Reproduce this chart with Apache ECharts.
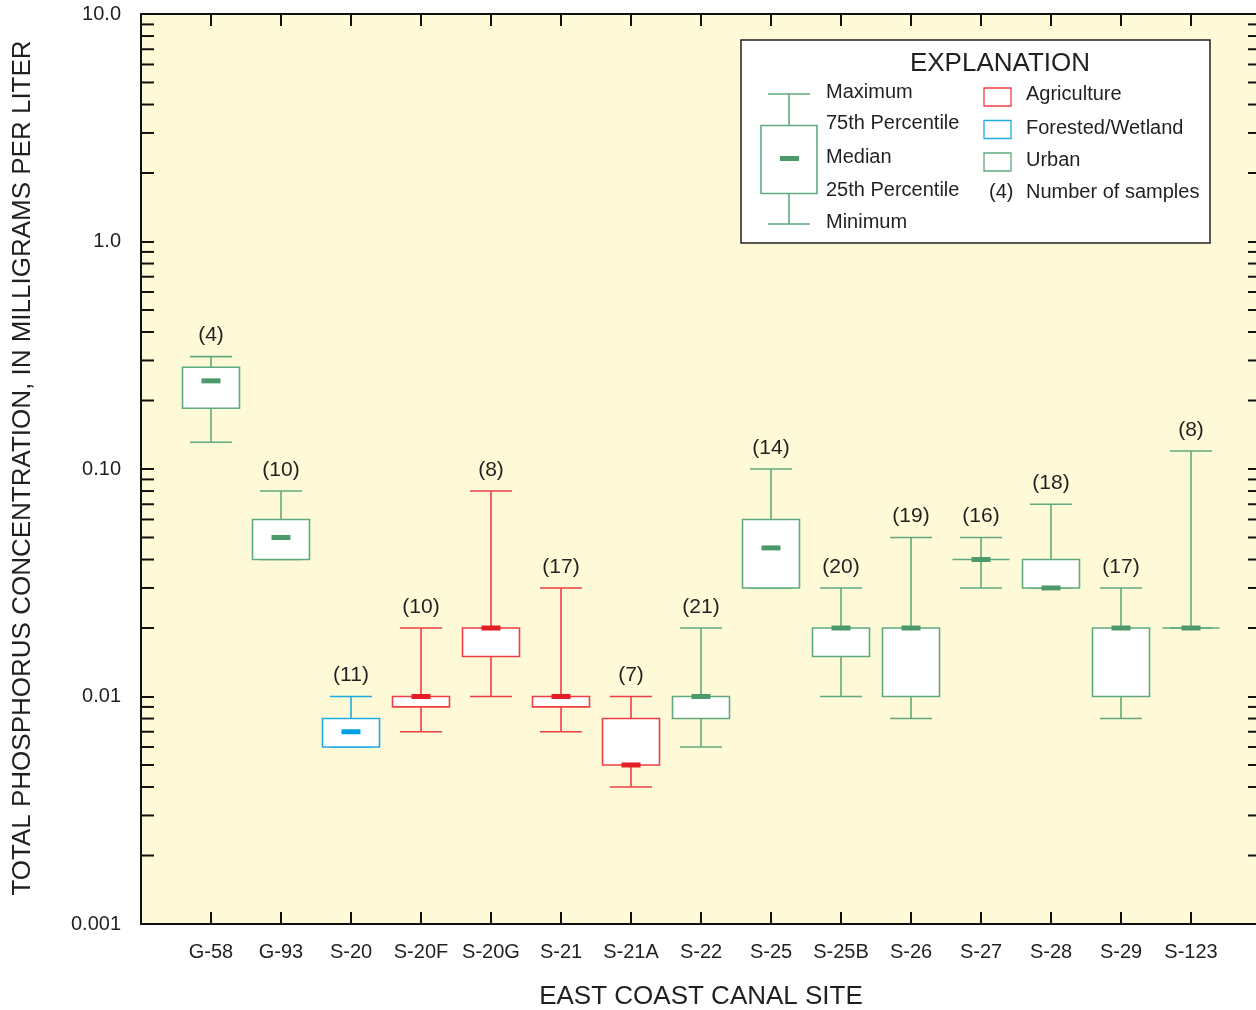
<!DOCTYPE html>
<html>
<head>
<meta charset="utf-8">
<script src="https://cdn.jsdelivr.net/npm/echarts@6/dist/echarts.min.js"></script>
<style>
html,body{margin:0;padding:0;background:#fff;}
#chart{width:1256px;height:1010px;}
</style>
</head>
<body>
<div id="chart"></div>
<script>
const sites = ['G-58','G-93','S-20','S-20F','S-20G','S-21','S-21A','S-22','S-25','S-25B','S-26','S-27','S-28','S-29','S-123'];
const landUse = ['Urban','Urban','Forested/Wetland','Agriculture','Agriculture','Agriculture','Agriculture','Urban','Urban','Urban','Urban','Urban','Urban','Urban','Urban'];
const minimum = [0.131,0.04,0.006,0.007,0.01,0.007,0.004,0.006,0.03,0.01,0.008,0.03,0.03,0.008,0.02];
const q1      = [0.185,0.04,0.006,0.009,0.015,0.009,0.005,0.008,0.03,0.015,0.01,0.04,0.03,0.01,0.02];
const median  = [0.244,0.05,0.007,0.01,0.02,0.01,0.005,0.01,0.045,0.02,0.02,0.04,0.03,0.02,0.02];
const q3      = [0.28,0.06,0.008,0.01,0.02,0.01,0.008,0.01,0.06,0.02,0.02,0.04,0.04,0.02,0.02];
const maximum = [0.312,0.08,0.01,0.02,0.08,0.03,0.01,0.02,0.10,0.03,0.05,0.05,0.07,0.03,0.12];
const samples = [4,10,11,10,8,17,7,21,14,20,19,16,18,17,8];
const yTickValues = [0.001,0.01,0.1,1,10];
const yTickLabels = ['0.001','0.01','0.10','1.0','10.0'];
const minorTickValues = [0.002,0.003,0.004,0.005,0.006,0.007,0.008,0.009,
  0.02,0.03,0.04,0.05,0.06,0.07,0.08,0.09,
  0.2,0.3,0.4,0.5,0.6,0.7,0.8,0.9,
  2,3,4,5,6,7,8,9];

const FONT = '"Liberation Sans", Arial, Helvetica, sans-serif';
const TXT = '#231F20';
const palette = {
  'Agriculture': {stroke:'#EF3E46', median:'#E41E26'},
  'Forested/Wetland': {stroke:'#20AAE2', median:'#00A0E3'},
  'Urban': {stroke:'#5FAA7E', median:'#4C9A6B'}
};

const boxData = sites.map((s,i)=>[i+1, minimum[i], q1[i], median[i], q3[i], maximum[i], samples[i], i]);
const minorData = minorTickValues.map(v=>[0, v]);

const chart = echarts.init(document.getElementById('chart'), null, {renderer:'canvas'});

const option = {
  animation:false,
  backgroundColor:'#ffffff',
  grid:{left:141, top:14, width:1120, height:910, show:true, backgroundColor:'#FEF9D7', borderWidth:0,
        containLabel:false, outerBoundsMode:'none'},
  xAxis:[
    {type:'value', min:0, max:16, interval:1, position:'bottom',
     axisLine:{show:true, onZero:false, lineStyle:{color:'#111', width:2}},
     axisTick:{show:true, inside:true, length:12, lineStyle:{color:'#111', width:2}},
     splitLine:{show:false},
     axisLabel:{margin:18, fontSize:20, color:TXT, fontFamily:FONT,
       formatter:function(v){const k=Math.round(v); return (k>=1 && k<=sites.length)?sites[k-1]:'';}}
    },
    {type:'value', min:0, max:16, interval:1, position:'top',
     axisLine:{show:true, onZero:false, lineStyle:{color:'#111', width:2}},
     axisTick:{show:true, inside:true, length:12, lineStyle:{color:'#111', width:2}},
     splitLine:{show:false}, axisLabel:{show:false}
    }
  ],
  yAxis:[
    {type:'log', logBase:10, min:0.001, max:10, position:'left',
     axisLine:{show:true, onZero:false, lineStyle:{color:'#111', width:2}},
     axisTick:{show:true, inside:true, length:13, lineStyle:{color:'#111', width:2}},
     splitLine:{show:false},
     axisLabel:{margin:20, fontSize:20, color:TXT, fontFamily:FONT,
       formatter:function(v){const k=Math.round(Math.log10(v)); const idx=yTickValues.findIndex(t=>Math.round(Math.log10(t))===k); return idx>=0?yTickLabels[idx]:'';}}
    },
    {type:'log', logBase:10, min:0.001, max:10, position:'right',
     axisLine:{show:true, onZero:false, lineStyle:{color:'#111', width:2}},
     axisTick:{show:true, inside:true, length:13, lineStyle:{color:'#111', width:2}},
     splitLine:{show:false}, axisLabel:{show:false}
    }
  ],
  series:[
    {
      type:'custom', name:'minorTicks', xAxisIndex:0, yAxisIndex:0, silent:true,
      data:minorData, encode:{x:0, y:1}, clip:false,
      renderItem:function(params, api){
        const v = api.value(1);
        const pL = api.coord([0, v]);
        const pR = api.coord([16, v]);
        const st = {stroke:'#111', lineWidth:2};
        return {type:'group', children:[
          {type:'line', shape:{x1:pL[0], y1:pL[1], x2:pL[0]+13, y2:pL[1]}, style:st},
          {type:'line', shape:{x1:pR[0]-13, y1:pR[1], x2:pR[0], y2:pR[1]}, style:st}
        ]};
      }
    },
    {
      type:'custom', name:'boxes', xAxisIndex:0, yAxisIndex:0,
      data:boxData, encode:{x:0, y:[1,2,3,4,5]},
      renderItem:function(params, api){
        const x = api.value(0);
        const idx = api.value(7);
        const col = palette[landUse[idx]];
        const pMin = api.coord([x, api.value(1)]);
        const pQ1 = api.coord([x, api.value(2)]);
        const pMed = api.coord([x, api.value(3)]);
        const pQ3 = api.coord([x, api.value(4)]);
        const pMax = api.coord([x, api.value(5)]);
        const boxW = api.size([0.814, 0])[0];
        const capW = api.size([0.6, 0])[0];
        const cx = pMed[0];
        const ls = {stroke:col.stroke, lineWidth:1.6};
        return {type:'group', children:[
          {type:'line', shape:{x1:cx, y1:pMax[1], x2:cx, y2:pMin[1]}, style:ls},
          {type:'line', shape:{x1:cx-capW/2, y1:pMax[1], x2:cx+capW/2, y2:pMax[1]}, style:ls},
          {type:'line', shape:{x1:cx-capW/2, y1:pMin[1], x2:cx+capW/2, y2:pMin[1]}, style:ls},
          {type:'polygon', shape:{points:[[cx-boxW/2,pQ3[1]],[cx+boxW/2,pQ3[1]],[cx+boxW/2,pQ1[1]],[cx-boxW/2,pQ1[1]]]},
            style:{fill:'#ffffff', stroke:col.stroke, lineWidth:1.6}},
          {type:'rect', shape:{x:cx-9.5, y:pMed[1]-2.5, width:19, height:5}, style:{fill:col.median}},
          {type:'text', x:cx, y:pMax[1]-21, style:{text:'('+api.value(6)+')', fontSize:21, fontFamily:FONT, fill:TXT, align:'center', verticalAlign:'middle'}}
        ]};
      }
    }
  ],
  graphic:[
    {type:'text', x:23, y:468, rotation:Math.PI/2,
     style:{text:'TOTAL PHOSPHORUS CONCENTRATION, IN MILLIGRAMS PER LITER', fontSize:26, fontFamily:FONT, fill:TXT, align:'center', verticalAlign:'middle'}},
    {type:'text', x:701, y:997,
     style:{text:'EAST COAST CANAL SITE', fontSize:26, fontFamily:FONT, fill:TXT, align:'center', verticalAlign:'middle'}},
    {type:'group', children:[
      {type:'rect', shape:{x:741, y:40, width:469, height:203}, style:{fill:'#ffffff', stroke:'#222', lineWidth:1.5}},
      {type:'text', x:1000, y:64, style:{text:'EXPLANATION', fontSize:26, fontFamily:FONT, fill:TXT, align:'center', verticalAlign:'middle'}},
      {type:'line', shape:{x1:789, y1:94, x2:789, y2:224}, style:{stroke:'#5FAA7E', lineWidth:1.6}},
      {type:'line', shape:{x1:768, y1:94, x2:810, y2:94}, style:{stroke:'#5FAA7E', lineWidth:1.6}},
      {type:'line', shape:{x1:768, y1:224, x2:810, y2:224}, style:{stroke:'#5FAA7E', lineWidth:1.6}},
      {type:'rect', shape:{x:761, y:125.5, width:56, height:68}, style:{fill:'#ffffff', stroke:'#5FAA7E', lineWidth:1.6}},
      {type:'rect', shape:{x:780, y:156, width:19, height:5}, style:{fill:'#4C9A6B'}},
      {type:'text', x:826, y:92, style:{text:'Maximum', fontSize:20, fontFamily:FONT, fill:TXT, verticalAlign:'middle'}},
      {type:'text', x:826, y:123.5, style:{text:'75th Percentile', fontSize:20, fontFamily:FONT, fill:TXT, verticalAlign:'middle'}},
      {type:'text', x:826, y:157, style:{text:'Median', fontSize:20, fontFamily:FONT, fill:TXT, verticalAlign:'middle'}},
      {type:'text', x:826, y:190, style:{text:'25th Percentile', fontSize:20, fontFamily:FONT, fill:TXT, verticalAlign:'middle'}},
      {type:'text', x:826, y:222, style:{text:'Minimum', fontSize:20, fontFamily:FONT, fill:TXT, verticalAlign:'middle'}},
      {type:'rect', shape:{x:984, y:88, width:27, height:18}, style:{fill:'#ffffff', stroke:'#EF3E46', lineWidth:1.3}},
      {type:'rect', shape:{x:984, y:120.5, width:27, height:18}, style:{fill:'#ffffff', stroke:'#20AAE2', lineWidth:1.3}},
      {type:'rect', shape:{x:984, y:153, width:27, height:18}, style:{fill:'#ffffff', stroke:'#5FAA7E', lineWidth:1.3}},
      {type:'text', x:1026, y:94, style:{text:'Agriculture', fontSize:20, fontFamily:FONT, fill:TXT, verticalAlign:'middle'}},
      {type:'text', x:1026, y:128, style:{text:'Forested/Wetland', fontSize:20, fontFamily:FONT, fill:TXT, verticalAlign:'middle'}},
      {type:'text', x:1026, y:160, style:{text:'Urban', fontSize:20, fontFamily:FONT, fill:TXT, verticalAlign:'middle'}},
      {type:'text', x:989, y:192, style:{text:'(4)', fontSize:20, fontFamily:FONT, fill:TXT, verticalAlign:'middle'}},
      {type:'text', x:1026, y:192, style:{text:'Number of samples', fontSize:20, fontFamily:FONT, fill:TXT, verticalAlign:'middle'}}
    ]}
  ]
};
chart.setOption(option);
</script>
</body>
</html>
